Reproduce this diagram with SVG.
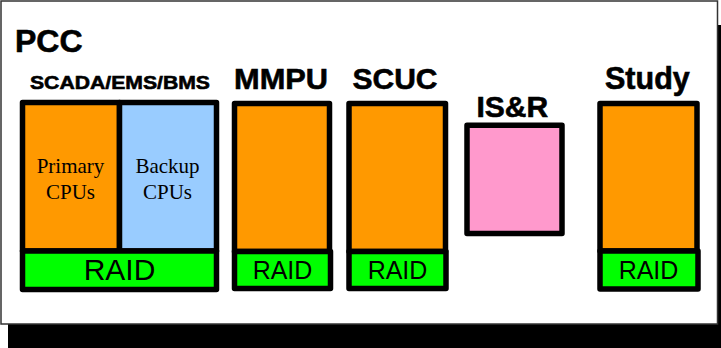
<svg xmlns="http://www.w3.org/2000/svg" width="721" height="348" viewBox="0 0 721 348">
<style>
.box{stroke:#000;stroke-width:5.5;stroke-linejoin:round}
.cpu{fill:#FF9900}
.bak{fill:#99CCFF}
.raid{fill:#00FF00}
.isr{fill:#FF99CC}
.title{font-family:"Liberation Sans",Arial,sans-serif;font-weight:bold;fill:#000;stroke:#000;stroke-width:0.6}
.rt{font-family:"Liberation Sans",Arial,sans-serif;fill:#000;text-anchor:middle}
.st{font-family:"Liberation Serif","Times New Roman",serif;font-size:21px;fill:#000;text-anchor:middle}
</style>
<rect x="0" y="0" width="721" height="348" fill="#fff"/>
<g id="frame">
<rect x="8" y="25" width="713" height="323" fill="#000"/>
<rect x="1" y="1" width="716.5" height="323" fill="#fff" stroke="#333" stroke-width="1.5"/>
<text class="title" x="15" y="52" font-size="32">PCC</text>
</g>
<g id="scada">
<text class="title" x="30" y="89" font-size="19" textLength="180" lengthAdjust="spacingAndGlyphs">SCADA/EMS/BMS</text>
<rect class="box cpu" x="22.5" y="102.5" width="97" height="148.5"/>
<rect class="box bak" x="119.5" y="102.5" width="97" height="148.5"/>
<rect class="box raid" x="22.5" y="251" width="194" height="38.5"/>
<text class="st" x="70.5" y="173">Primary</text>
<text class="st" x="70.5" y="199">CPUs</text>
<text class="st" x="167.5" y="173">Backup</text>
<text class="st" x="167.5" y="199">CPUs</text>
<text class="rt" x="119.5" y="280" font-size="30">RAID</text>
</g>
<g id="mmpu">
<text class="title" x="234" y="89" font-size="30" textLength="94" lengthAdjust="spacingAndGlyphs">MMPU</text>
<rect class="box cpu" x="234.5" y="103.5" width="95" height="148"/>
<rect class="box raid" x="234.5" y="251.5" width="96" height="37"/>
<text class="rt" x="282.5" y="279" font-size="25">RAID</text>
</g>
<g id="scuc">
<text class="title" x="352.5" y="89" font-size="30">SCUC</text>
<rect class="box cpu" x="349" y="103.5" width="96.5" height="148"/>
<rect class="box raid" x="349" y="251.5" width="97" height="37"/>
<text class="rt" x="397.5" y="279" font-size="25">RAID</text>
</g>
<g id="isr">
<text class="title" x="476.5" y="117" font-size="30">IS&amp;R</text>
<rect class="box isr" x="467" y="125.2" width="95" height="108.3"/>
</g>
<g id="study">
<text class="title" x="605" y="89" font-size="30.5">Study</text>
<rect class="box cpu" x="600" y="103.5" width="97" height="147.5"/>
<rect class="box raid" x="600" y="251" width="98" height="38"/>
<text class="rt" x="648.5" y="279" font-size="25">RAID</text>
</g>
<g id="connectors"></g>
</svg>
